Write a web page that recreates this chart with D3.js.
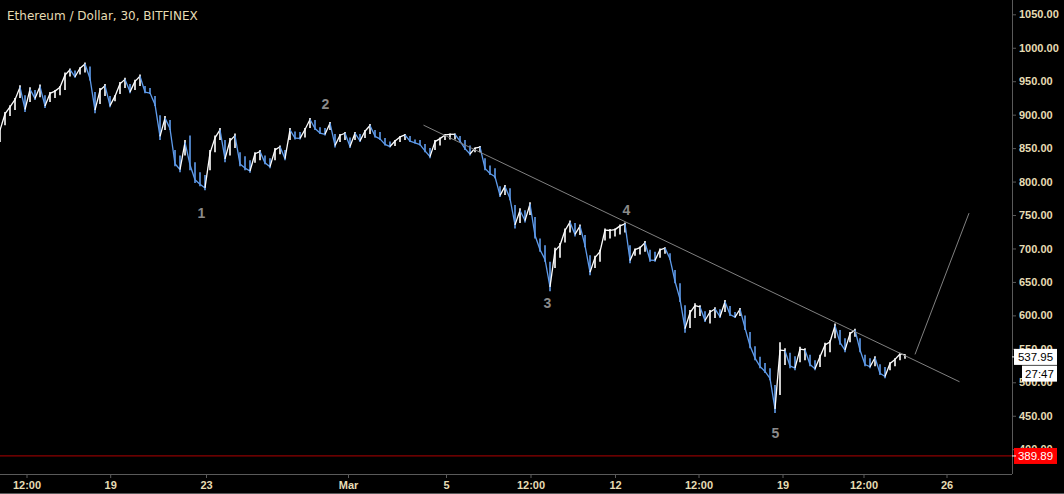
<!DOCTYPE html>
<html><head><meta charset="utf-8">
<script src="https://cdn.jsdelivr.net/npm/d3@7"></script>
<style>html,body{margin:0;padding:0;background:#000;overflow:hidden}</style>
</head><body><svg id="c" width="1064" height="494"></svg>
<script>
const title = "Ethereum / Dollar, 30, BITFINEX";
// bar highs / lows (USD), one bar per slot
const highs = [880,904,914,925,944,929,941,937,945,929,
934,937,943,963,969,966,971,978,972,934,
940,946,928,929,949,955,946,952,960,943,
940,928,899,898,892,847,839,862,869,829,
814,810,847,869,880,862,865,872,844,838,
832,844,847,839,835,850,854,847,880,875,
874,880,895,892,881,880,889,871,871,874,
866,874,871,877,886,877,874,865,860,862,
868,871,868,863,862,856,850,862,866,871,
872,872,868,862,854,851,853,835,824,820,
793,795,790,765,760,757,769,747,715,705,
680,701,708,730,742,738,736,720,690,689,
698,730,729,730,736,739,705,700,703,711,
698,695,700,702,693,668,648,615,608,618,
615,606,608,612,609,623,614,605,611,600,
575,554,538,529,521,496,560,551,544,539,
553,551,541,533,541,559,563,588,578,566,
575,580,566,541,536,539,527,523,530,536,
544,542];
const lows = [859,884,898,907,925,904,919,922,926,910,
919,925,929,937,957,955,960,963,951,902,
916,928,911,920,931,940,932,937,943,932,
931,913,862,877,877,823,814,839,817,798,
793,787,817,844,862,829,839,850,823,817,
813,828,832,826,820,832,841,832,862,863,
863,866,880,877,871,869,877,851,859,862,
850,862,859,865,871,866,862,854,851,853,
859,862,859,857,854,844,835,847,854,862,
863,863,859,847,839,844,844,817,810,805,
777,780,772,730,738,739,750,715,695,680,
636,671,686,709,724,718,720,702,660,671,
680,712,715,718,721,724,678,689,691,695,
680,680,686,692,683,648,620,574,581,596,
599,590,588,596,596,605,599,596,599,578,
551,533,521,514,503,454,481,526,521,518,
530,533,524,518,523,538,545,566,556,545,
560,568,545,524,521,524,511,506,518,524,
533,535];
const xTickPos = [5.3, 22.04, 41.2, 69.6, 89.2, 106.1, 123, 139.7, 156.5, 172.7, 189.3];
const xTickLabels = ["12:00","19","23","Mar","5","12:00","12","12:00","19","12:00","26"];
const yTicks = [400,450,500,550,600,650,700,750,800,850,900,950,1000,1050];
const lastPrice = 537.95;
const countdown = "27:47";
const lowLevel = 389.89;
const trendLine = [[84.7, 884.3],[191.9, 500.8]];
const projection = [[183, 541.7],[193.8, 752.8]];
const waveLabels = ["1","2","3","4","5"];
const waveBars = [40.3, 65.1, 109.5, 125.3, 155.1];
const wavePrices = [753.8, 915.6, 618.3, 758.3, 424.5];

const W = 1064, H = 494, plotR = 1012, plotB = 474;
const cream = "#e6dcb4", grid = "#5a5a5a", up = "#ffffff", dn = "#5f9cec";
const svg = d3.select("#c");
svg.append("rect").attr("width", W).attr("height", H).attr("fill", "#000");

const x = d3.scaleLinear().domain([0, 202.4]).range([0, plotR]);
const y = d3.scaleLinear().domain([400, 1050]).range([449.2, 14.3]);

svg.append("clipPath").attr("id","clip").append("rect").attr("x",0).attr("y",0).attr("width",plotR).attr("height",plotB);
const plot = svg.append("g").attr("clip-path","url(#clip)");

// low level line
plot.append("line").attr("x1",0).attr("x2",plotR).attr("y1",y(lowLevel)).attr("y2",y(lowLevel))
  .attr("stroke","#8c0000").attr("stroke-width",1.3);

// bars
const bars = highs.map((h,i)=>({i, h, l: lows[i]}));
bars.forEach((b,i)=>{
  const mid = (b.h+b.l)/2;
  const pm = i>0 ? (bars[i-1].h+bars[i-1].l)/2 : mid-1;
  b.up = mid >= pm;
  b.c = b.up ? b.h - (b.h-b.l)*0.15 : b.l + (b.h-b.l)*0.15;
});
const g = plot.append("g");
bars.forEach((b,i)=>{
  const col = b.up ? up : dn;
  if(i>0){
    const p = bars[i-1];
    g.append("line").attr("x1",x(p.i)).attr("y1",y(p.c)).attr("x2",x(b.i)).attr("y2",y(b.c))
      .attr("stroke",col).attr("stroke-width",1.3);
  }
  g.append("line").attr("x1",x(b.i)).attr("x2",x(b.i)).attr("y1",y(b.h)).attr("y2",y(b.l))
    .attr("stroke",col).attr("stroke-width",1.6);
});

// trend line & projection
const ln = d3.line().x(d=>x(d[0])).y(d=>y(d[1]));
plot.append("path").attr("d",ln(trendLine)).attr("stroke","#808080").attr("stroke-width",1).attr("fill","none");
plot.append("path").attr("d",ln(projection)).attr("stroke","#808080").attr("stroke-width",1).attr("fill","none");

// wave labels
waveLabels.forEach((t,i)=>{
  plot.append("text").attr("x",x(waveBars[i])).attr("y",y(wavePrices[i])).attr("dy","0.36em")
    .attr("text-anchor","middle").attr("fill","#8a8a8a")
    .style("font","bold 14px 'Liberation Sans', Arial, sans-serif").text(t);
});

// axes
const yAxis = d3.axisRight(y).tickValues(yTicks).tickFormat(d3.format(".2f")).tickSize(4).tickPadding(3);
const ya = svg.append("g").attr("transform",`translate(${plotR},0)`).call(yAxis);
ya.select(".domain").remove();
ya.selectAll("line").attr("stroke",grid);
ya.selectAll("text").attr("fill",cream).style("font","bold 11px 'Liberation Sans', Arial, sans-serif");

const xAxis = d3.axisBottom(x).tickValues(xTickPos).tickFormat((d,i)=>xTickLabels[i]).tickSize(4).tickPadding(3);
const xa = svg.append("g").attr("transform",`translate(0,${plotB})`).call(xAxis);
xa.select(".domain").remove();
xa.selectAll("line").attr("stroke",grid);
xa.selectAll("text").attr("fill",cream).style("font","bold 11px 'Liberation Sans', Arial, sans-serif");

svg.append("line").attr("x1",plotR+0.5).attr("x2",plotR+0.5).attr("y1",0).attr("y2",plotB).attr("stroke",grid);
svg.append("line").attr("x1",0).attr("x2",plotR).attr("y1",plotB+0.5).attr("y2",plotB+0.5).attr("stroke",grid);
svg.append("line").attr("x1",0).attr("x2",W).attr("y1",H-0.5).attr("y2",H-0.5).attr("stroke",grid);

// price boxes
function box(val, label, bg, fg, x0, w){
  const yy = y(val);
  svg.append("rect").attr("x",x0).attr("y",yy-8).attr("width",w).attr("height",16).attr("fill",bg);
  svg.append("text").attr("x",x0+w/2).attr("y",yy).attr("dy","0.36em").attr("text-anchor","middle")
    .attr("fill",fg).style("font","11.5px 'Liberation Sans', Arial, sans-serif").text(label);
}
box(lastPrice, d3.format(".2f")(lastPrice), "#ffffff", "#000", 1014, 43);
svg.append("line").attr("x1",plotR).attr("x2",plotR+4).attr("y1",y(lastPrice)).attr("y2",y(lastPrice)).attr("stroke","#fff");
box(lastPrice - 25, countdown, "#ffffff", "#000", 1022, 35);
box(lowLevel, d3.format(".2f")(lowLevel), "#ff0000", "#fff", 1014, 43);
svg.append("line").attr("x1",plotR).attr("x2",plotR+4).attr("y1",y(lowLevel)).attr("y2",y(lowLevel)).attr("stroke","#fff");

// title
svg.append("text").attr("x",7).attr("y",20).attr("fill",cream)
  .style("font","12px 'DejaVu Sans', sans-serif").text(title);
</script></body></html>
